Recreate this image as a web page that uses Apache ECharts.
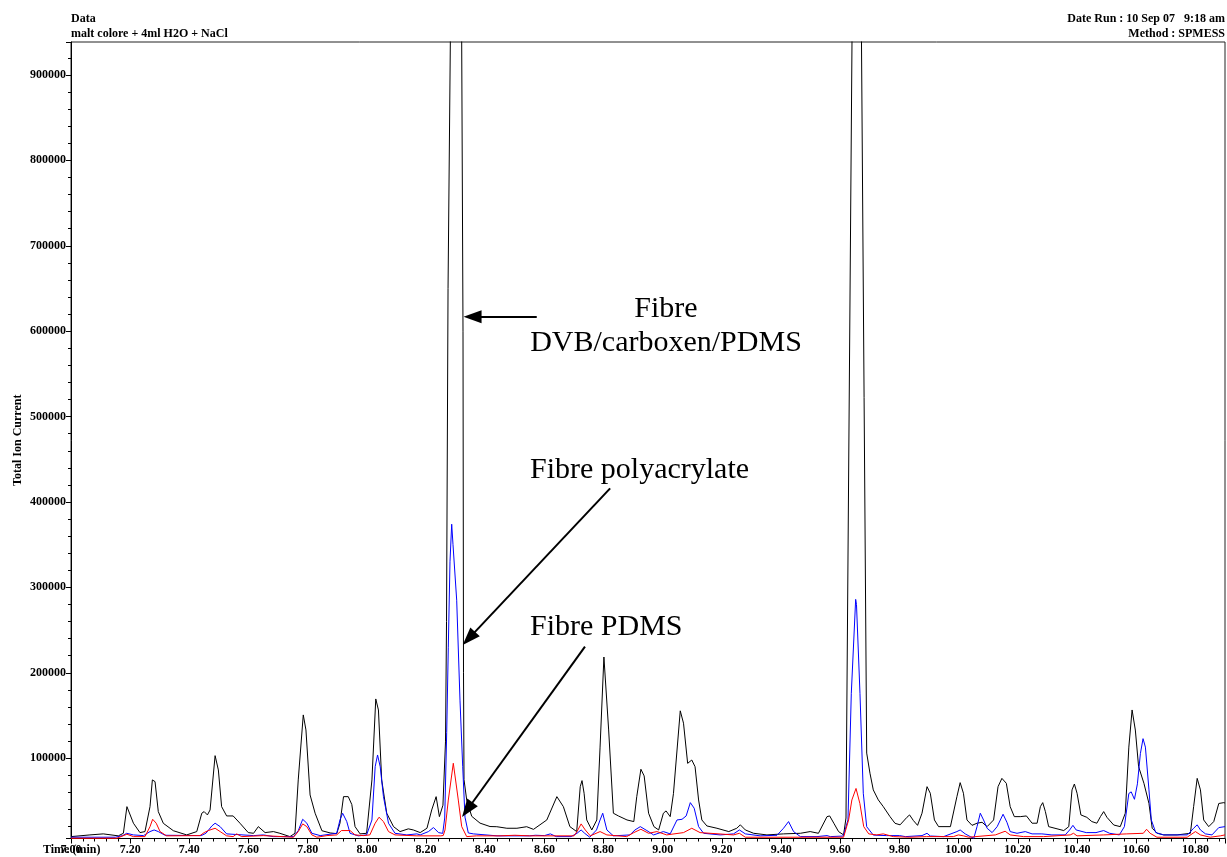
<!DOCTYPE html>
<html>
<head>
<meta charset="utf-8">
<title>malt colore - TIC</title>
<script src="https://cdn.jsdelivr.net/npm/echarts@6/dist/echarts.min.js"></script>
<style>
  html, body {margin: 0; padding: 0; background: #fff;}
  #chart {width: 1227px; height: 857px;}
</style>
</head>
<body>
<div id="chart"></div>
<script>
// time (min), total ion current
const dvbTrace = [
  [7.000, 8200], [7.064, 10200], [7.109, 11400], [7.160, 9100], [7.177, 12100], [7.189, 43300], [7.211, 23900],
  [7.233, 12900], [7.250, 14100], [7.267, 43300], [7.275, 74600], [7.284, 72600], [7.295, 37500], [7.312, 23800],
  [7.346, 15100], [7.391, 10200], [7.425, 14100], [7.442, 35600], [7.450, 37500], [7.461, 33600], [7.470, 39400],
  [7.487, 103000], [7.498, 86300], [7.509, 43300], [7.526, 32400], [7.548, 32400], [7.571, 23900], [7.599, 12900],
  [7.617, 12100], [7.633, 19900], [7.639, 20700], [7.656, 12900], [7.684, 14100], [7.706, 12100], [7.740, 8200],
  [7.757, 12100], [7.768, 74600], [7.785, 150700], [7.794, 133100], [7.808, 57000], [7.825, 35600], [7.848, 15100],
  [7.876, 12500], [7.898, 11700], [7.909, 23900], [7.921, 55000], [7.937, 55000], [7.949, 45800], [7.960, 19900],
  [7.977, 11400], [7.999, 12100], [8.017, 74600], [8.030, 169400], [8.039, 156500], [8.050, 74600], [8.067, 35600],
  [8.090, 19900], [8.112, 14100], [8.140, 17300], [8.157, 16000], [8.180, 12900], [8.203, 18000], [8.219, 39400],
  [8.234, 55000], [8.245, 31600], [8.257, 45000], [8.2657, 120000], [8.2691, 260000], [8.2742, 650000],
  [8.2820, 938600], [8.3013, 1500000], [8.3204, 938600], [8.3248, 600000], [8.3265, 200000], [8.3282, 75000],
  [8.3373, 51000], [8.3542, 32000], [8.3823, 24000], [8.4161, 20000], [8.439, 19800], [8.473, 18000], [8.507, 18000],
  [8.540, 19800], [8.563, 16700], [8.608, 27700], [8.642, 55000], [8.664, 43300], [8.686, 19900], [8.709, 14100],
  [8.721, 66700], [8.727, 73800], [8.734, 59000], [8.743, 27700], [8.760, 16000], [8.777, 27700], [8.788, 113000],
  [8.801, 218500], [8.817, 133100], [8.833, 35600], [8.850, 32400], [8.879, 27700], [8.902, 25800], [8.912, 55000],
  [8.926, 87100], [8.937, 79300], [8.952, 35600], [8.970, 19900], [8.986, 16000], [9.002, 35600], [9.011, 38300],
  [9.025, 31600], [9.036, 58500], [9.059, 155500], [9.070, 141000], [9.084, 94000], [9.098, 97900], [9.109, 90100],
  [9.121, 51100], [9.132, 27700], [9.149, 20700], [9.183, 18000], [9.223, 14100], [9.250, 18000], [9.262, 22000],
  [9.279, 16000], [9.307, 12100], [9.352, 10200], [9.408, 11400], [9.465, 12100], [9.498, 14100], [9.526, 12100],
  [9.555, 31600], [9.564, 32400], [9.578, 23900], [9.594, 14100], [9.611, 10200], [9.6157, 12100], [9.6191, 30000],
  [9.6394, 938600], [9.6546, 1500000], [9.6715, 938600], [9.6891, 106000], [9.7002, 82400], [9.7114, 62900],
  [9.7283, 51200], [9.7452, 43300], [9.7679, 31600], [9.7848, 23800], [9.802, 22000], [9.825, 30800], [9.834, 33600],
  [9.847, 27000], [9.861, 21400], [9.876, 35600], [9.893, 66700], [9.904, 59000], [9.918, 27700], [9.932, 19900],
  [9.972, 19900], [9.994, 55000], [10.005, 71400], [10.016, 59000], [10.028, 27700], [10.045, 21400], [10.062, 23900],
  [10.079, 25000], [10.096, 19900], [10.118, 27700], [10.133, 66700], [10.146, 76400], [10.161, 70600], [10.174, 43300],
  [10.188, 31600], [10.208, 31600], [10.229, 32400], [10.248, 23900], [10.265, 23900], [10.276, 43300], [10.284, 48000],
  [10.293, 37500], [10.304, 19900], [10.355, 15300], [10.372, 19900], [10.383, 62900], [10.391, 69800], [10.400, 59000],
  [10.413, 33600], [10.433, 30800], [10.450, 25800], [10.467, 23900], [10.479, 31600], [10.490, 37500], [10.501, 30800],
  [10.524, 21800], [10.546, 19900], [10.563, 35600], [10.575, 113000], [10.586, 156500], [10.597, 133000],
  [10.608, 90100], [10.626, 70600], [10.643, 47000], [10.654, 18000], [10.671, 12100], [10.693, 10200], [10.738, 10200],
  [10.783, 12100], [10.794, 43300], [10.806, 76400], [10.817, 62900], [10.828, 27700], [10.845, 19900], [10.862, 25800],
  [10.879, 47000], [10.896, 48000], [10.900, 47500]
]

const polyacrylateTrace = [
  [7.000, 7500], [7.150, 7500], [7.175, 9400], [7.188, 12100], [7.211, 10200], [7.245, 9400], [7.267, 14100],
  [7.281, 16000], [7.295, 14100], [7.318, 9800], [7.440, 9400], [7.456, 12100], [7.476, 20700], [7.487, 23900],
  [7.504, 19900], [7.526, 11400], [7.617, 9400], [7.650, 10200], [7.684, 8200], [7.752, 8200], [7.768, 15100],
  [7.783, 28500], [7.797, 23900], [7.814, 12100], [7.842, 9400], [7.898, 12100], [7.909, 27700], [7.918, 35600],
  [7.932, 25800], [7.943, 12100], [7.971, 9100], [7.999, 10200], [8.017, 27700], [8.028, 90100], [8.036, 103800],
  [8.045, 90100], [8.056, 55000], [8.073, 23900], [8.095, 12100], [8.135, 10200], [8.169, 11400], [8.180, 10200],
  [8.208, 14100], [8.225, 18800], [8.242, 12900], [8.2562, 12000], [8.2630, 30000], [8.2697, 130000],
  [8.2751, 230000], [8.2808, 330000], [8.2866, 374000], [8.2910, 350000], [8.3035, 285000], [8.3146, 168000],
  [8.3238, 90000], [8.3315, 31000], [8.3427, 12500], [8.360, 11400], [8.440, 9100], [8.550, 9100], [8.570, 9800],
  [8.600, 9400], [8.620, 11400], [8.640, 8200], [8.690, 8200], [8.710, 12100], [8.724, 16000], [8.736, 12100],
  [8.753, 7500], [8.776, 16000], [8.788, 27700], [8.797, 35600], [8.811, 16000], [8.833, 9100], [8.889, 10200],
  [8.906, 16000], [8.924, 19900], [8.946, 15300], [8.969, 10200], [9.002, 14100], [9.025, 11400], [9.048, 27700],
  [9.065, 28500], [9.079, 32400], [9.093, 48000], [9.106, 41500], [9.121, 19900], [9.138, 12100], [9.194, 10200],
  [9.239, 11400], [9.259, 16000], [9.279, 11400], [9.329, 9100], [9.386, 9800], [9.408, 18000], [9.425, 25800],
  [9.442, 14100], [9.465, 8200], [9.521, 8200], [9.555, 9400], [9.566, 8200], [9.610, 8900], [9.6157, 9400],
  [9.6258, 27700], [9.6371, 176000], [9.6518, 286000], [9.6546, 280000], [9.6664, 176000], [9.6776, 59000],
  [9.6891, 19800], [9.7114, 10000], [9.756, 9400], [9.800, 9400], [9.820, 8200], [9.876, 9400], [9.893, 12100],
  [9.904, 8900], [9.949, 8200], [9.994, 14100], [10.005, 16000], [10.022, 11400], [10.039, 8200], [10.051, 6300],
  [10.062, 19900], [10.073, 35600], [10.084, 27700], [10.096, 18000], [10.113, 12900], [10.130, 19900],
  [10.150, 34400], [10.163, 25000], [10.174, 14100], [10.197, 12100], [10.225, 14100], [10.248, 11400],
  [10.281, 11400], [10.315, 10200], [10.360, 10200], [10.375, 16000], [10.386, 21400], [10.397, 16000],
  [10.431, 12900], [10.464, 12900], [10.490, 15300], [10.510, 12100], [10.543, 10200], [10.560, 19900],
  [10.575, 58700], [10.583, 60600], [10.594, 51900], [10.604, 70000], [10.614, 105300], [10.623, 122900],
  [10.631, 113000], [10.643, 62900], [10.651, 27700], [10.666, 12900], [10.693, 10200], [10.773, 10200],
  [10.794, 18000], [10.806, 22000], [10.817, 16000], [10.834, 11400], [10.856, 10200], [10.879, 18800],
  [10.900, 19900]
]

const pdmsTrace = [
  [7.000, 6300], [7.155, 6300], [7.189, 11000], [7.211, 8200], [7.250, 8200], [7.267, 19900], [7.276, 28500],
  [7.288, 23900], [7.301, 14100], [7.323, 9100], [7.436, 9400], [7.450, 12900], [7.464, 15300], [7.487, 18000],
  [7.504, 14100], [7.526, 9100], [7.548, 8200], [7.560, 11400], [7.577, 8200], [7.650, 9400], [7.752, 7500],
  [7.768, 14100], [7.783, 23100], [7.797, 19900], [7.814, 10200], [7.831, 7500], [7.865, 9400], [7.898, 10200],
  [7.914, 15300], [7.943, 15300], [7.960, 10200], [7.988, 9400], [8.010, 10200], [8.028, 23900], [8.041, 30900],
  [8.056, 25800], [8.073, 14100], [8.095, 10200], [8.169, 9100], [8.250, 9100], [8.258, 9500], [8.264, 16000],
  [8.2751, 51000], [8.2920, 94100], [8.3089, 51000], [8.3204, 20000], [8.3373, 8200], [8.370, 9100], [8.450, 9100],
  [8.500, 9800], [8.550, 9100], [8.700, 9100], [8.710, 14100], [8.724, 23100], [8.738, 16000], [8.755, 9100],
  [8.788, 14100], [8.811, 10200], [8.878, 8200], [8.902, 12900], [8.926, 16800], [8.952, 12100], [8.980, 14100],
  [9.013, 10200], [9.070, 12900], [9.098, 18000], [9.126, 12900], [9.239, 10200], [9.259, 12100], [9.279, 7500],
  [9.611, 7500], [9.628, 27700], [9.639, 51100], [9.653, 64600], [9.666, 47000], [9.679, 19900], [9.696, 11400],
  [9.723, 10200], [9.745, 11400], [9.779, 8200], [9.835, 7500], [9.891, 8200], [9.982, 8200], [9.999, 10200],
  [10.016, 9100], [10.034, 7500], [10.124, 10200], [10.157, 14500], [10.174, 10200], [10.219, 8200], [10.287, 8200],
  [10.377, 10200], [10.388, 12100], [10.400, 9100], [10.490, 10200], [10.568, 11400], [10.624, 12100],
  [10.635, 16800], [10.647, 12100], [10.670, 7500], [10.772, 7500], [10.800, 14100], [10.817, 10200], [10.850, 7500],
  [10.884, 9100], [10.900, 10200]
]

// annotation arrows, [from, to] in axis units
const annotationArrows = [
  [[8.574, 616900], [8.357, 616900]],
  [[8.822, 416000], [8.3447, 240300]],
  [[8.737, 230600], [8.3393, 39700]]
]

const fibreLabels = ['Fibre', 'DVB/carboxen/PDMS', 'Fibre polyacrylate', 'Fibre PDMS']

const serif = '"Liberation Serif", "Times New Roman", serif'
const smallFont = 'bold 12px ' + serif
const bigFont = '30px ' + serif

const chart = echarts.init(document.getElementById('chart'))

function headText(text, x, y, align) {
  return {
    type: 'text', x: x, y: y, silent: true,
    style: {text: text, font: smallFont, fill: '#000', textAlign: align, textVerticalAlign: 'middle'}
  }
}

function bigText(text, x, y, align) {
  return {
    type: 'text', x: x, y: y, silent: true,
    style: {text: text, font: bigFont, fill: '#000', textAlign: align, textVerticalAlign: 'middle'}
  }
}

const traceSeries = (name, data, color) => ({
  name: name,
  type: 'line',
  data: data,
  showSymbol: false,
  symbol: 'none',
  clip: true,
  lineStyle: {color: color, width: 1},
  emphasis: {disabled: true},
  silent: true
})

const dvbSeries = traceSeries('DVB/carboxen/PDMS', dvbTrace, '#000000')
dvbSeries.markLine = {
  silent: true,
  symbol: ['none', 'triangle'],
  symbolSize: [13, 18],
  label: {show: false},
  lineStyle: {color: '#000', width: 2, type: 'solid'},
  emphasis: {disabled: true},
  data: annotationArrows.map(a => [{coord: a[0]}, {coord: a[1]}])
}

chart.setOption({
  animation: false,
  backgroundColor: '#fff',
  grid: {
    left: 71, right: 2, top: 42, bottom: 18.5,
    outerBoundsMode: 'none',
    containLabel: false,
    show: true, borderColor: '#222', borderWidth: 1, backgroundColor: '#fff'
  },
  xAxis: {
    type: 'value',
    min: 7,
    max: 10.9,
    interval: 0.2,
    axisLine: {onZero: false, lineStyle: {color: '#000', width: 1}},
    axisTick: {show: true, length: 5, lineStyle: {color: '#000'}},
    minorTick: {show: true, splitNumber: 5, length: 3, lineStyle: {color: '#000'}},
    splitLine: {show: false},
    axisLabel: {
      margin: 5,
      showMaxLabel: false,
      color: '#000', fontFamily: serif, fontWeight: 'bold', fontSize: 12,
      formatter: v => v.toFixed(2)
    }
  },
  yAxis: {
    type: 'value',
    min: 6000,
    max: 938600,
    splitNumber: 9,
    name: 'Total Ion Current',
    nameLocation: 'middle',
    nameGap: 47,
    nameMoveOverlap: false,
    nameTextStyle: {color: '#000', fontFamily: serif, fontWeight: 'bold', fontSize: 12},
    axisLine: {show: true, lineStyle: {color: '#000', width: 1}},
    axisTick: {show: true, length: 5, lineStyle: {color: '#000'}},
    minorTick: {show: true, splitNumber: 5, length: 3, lineStyle: {color: '#000'}},
    splitLine: {show: false},
    axisLabel: {
      margin: 5,
      showMinLabel: false,
      showMaxLabel: false,
      color: '#000', fontFamily: serif, fontWeight: 'bold', fontSize: 12,
      formatter: v => String(v)
    }
  },
  series: [
    dvbSeries,
    traceSeries('polyacrylate', polyacrylateTrace, '#0000ff'),
    traceSeries('PDMS', pdmsTrace, '#ff0000')
  ],
  graphic: [
    headText('Data', 71, 19, 'left'),
    headText('malt colore + 4ml H2O + NaCl', 71, 34, 'left'),
    headText('Date Run : 10 Sep 07   9:18 am', 1225, 19, 'right'),
    headText('Method : SPMESS', 1225, 34, 'right'),
    headText('Time (min)', 43, 850, 'left'),
    bigText(fibreLabels[0], 666, 309, 'center'),
    bigText(fibreLabels[1], 666, 343, 'center'),
    bigText(fibreLabels[2], 530, 470, 'left'),
    bigText(fibreLabels[3], 530, 627, 'left')
  ]
})
</script>
</body>
</html>
